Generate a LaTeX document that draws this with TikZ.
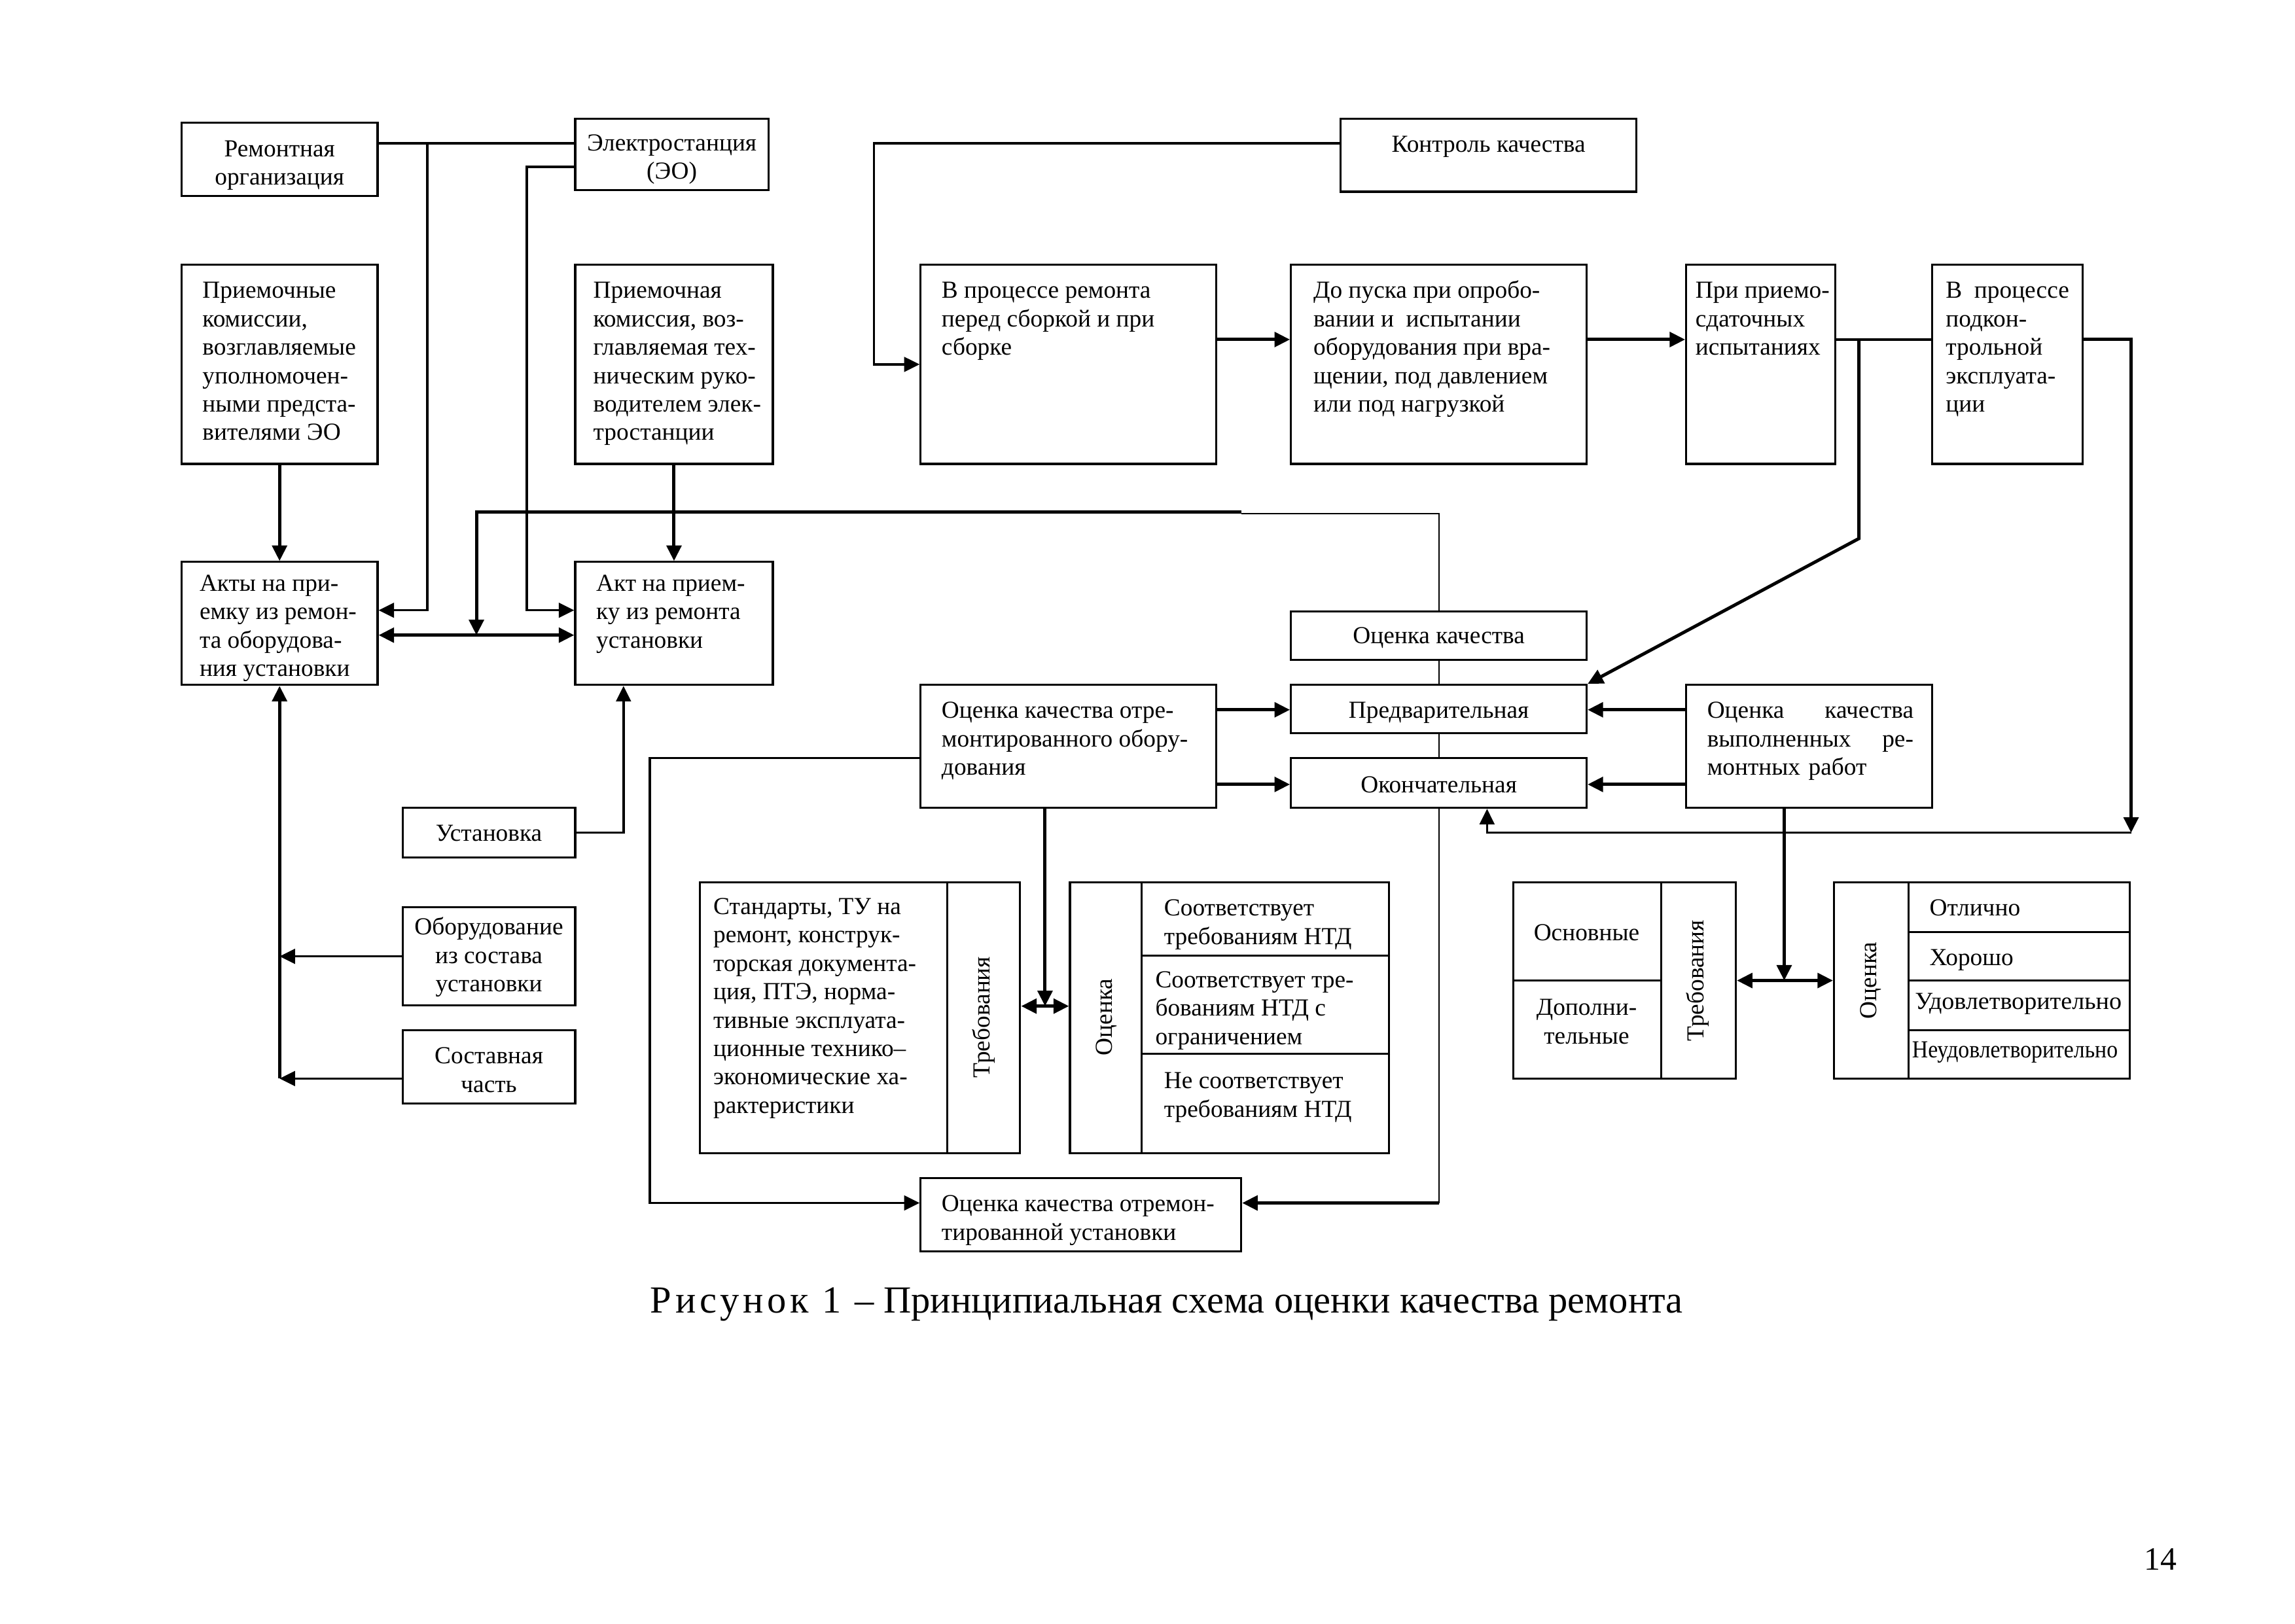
\documentclass[tikz,border=0pt]{standalone}
\usepackage{fontspec}
\setmainfont{Liberation Serif}
\usetikzlibrary{arrows.meta,fit,calc}
\newcommand\bfont{\fontsize{9}{10.45}\selectfont}
\newcommand\fl{\rule{0pt}{7pt}}
\newcommand\mkbox[5]{\node[box, fit={(#2,#3)(#4,#5)}] (#1) {};}
\newcommand\txtl[4]{\node[txt] (#1) at (#2,{#3-7.5}) {\fl#4};}
\newcommand\txtc[4]{\node[ctxt] (#1) at (#2,{#3-7.5}) {\fl#4};}
\newcommand\txtr[4]{\node[rtxt] (#1) at (#2,#3) {#4};}
\begin{document}
\begin{tikzpicture}[x=0.18941mm, y=-0.18941mm,
 box/.style={draw, line width=0.75pt, inner sep=0pt},
 bl/.style={line width=0.75pt},
 txt/.style={anchor=north west, inner sep=0pt, align=left, font=\bfont},
 ctxt/.style={anchor=north, inner sep=0pt, align=center, font=\bfont},
 rtxt/.style={rotate=90, inner sep=0pt, font=\bfont},
 ln/.style={line width=0.85pt},
 thk/.style={line width=1.2pt},
 spn/.style={line width=0.5pt},
 >={Triangle[length=2mm,width=1.9mm]},
]
\useasboundingbox (0,0) rectangle (1568,1109.3);

% ---------- boxes
\mkbox{remorg}{124}{84}{258}{134}
\mkbox{elst}{393}{81}{525}{130}
\mkbox{prk1}{124}{181}{258}{317}
\mkbox{prk2}{393}{181}{528}{317}
\mkbox{akty}{124}{384}{258}{468}
\mkbox{akt}{393}{384}{528}{468}
\mkbox{ustan}{275}{552}{393}{586}
\mkbox{oborud}{275}{620}{393}{687}
\mkbox{sost}{275}{704}{393}{754}
\mkbox{kontrol}{916}{81}{1118}{131}
\mkbox{proc1}{629}{181}{831}{317}
\mkbox{dopusk}{882}{181}{1084}{317}
\mkbox{priemo}{1152}{181}{1254}{317}
\mkbox{podkon}{1320}{181}{1423}{317}
\mkbox{okach}{882}{418}{1084}{451}
\mkbox{pred}{882}{468}{1084}{501}
\mkbox{okon}{882}{518}{1084}{552}
\mkbox{oremob}{629}{468}{831}{552}
\mkbox{ovyp}{1152}{468}{1320}{552}
\mkbox{std}{478}{603}{697}{788}
\mkbox{ocen1}{731}{603}{949}{788}
\mkbox{oust}{629}{805}{848}{855}
\mkbox{treb2}{1034}{603}{1186}{737}
\mkbox{ocen2}{1253}{603}{1455}{737}

% ---------- dividers
\draw[bl] (std.north -| 647,0) -- (std.south -| 647,0);
\draw[bl] (ocen1.north -| 780,0) -- (ocen1.south -| 780,0);
\draw[bl] (ocen1.east |- 0,653) -- (780,653);
\draw[bl] (ocen1.east |- 0,720) -- (780,720);
\draw[bl] (treb2.north -| 1135,0) -- (treb2.south -| 1135,0);
\draw[bl] (treb2.west |- 0,670) -- (1135,670);
\draw[bl] (ocen2.north -| 1304,0) -- (ocen2.south -| 1304,0);
\draw[bl] (ocen2.east |- 0,637) -- (1304,637);
\draw[bl] (ocen2.east |- 0,670) -- (1304,670);
\draw[bl] (ocen2.east |- 0,704) -- (1304,704);

% ---------- texts
\txtc{tremorg}{191}{101}{Ремонтная\\организация}
\txtc{telst}{459}{97}{Электростанция\\(ЭО)}
\txtl{tprk1}{138}{198}{Приемочные\\комиссии,\\возглавляемые\\уполномочен-\\ными предста-\\вителями ЭО}
\txtl{tprk2}{405}{198}{Приемочная\\комиссия, воз-\\главляемая тех-\\ническим руко-\\водителем элек-\\тростанции}
\txtl{takty}{136}{398}{Акты на при-\\емку из ремон-\\та оборудова-\\ния установки}
\txtl{takt}{407}{398}{Акт на прием-\\ку из ремонта\\установки}
\txtc{tustan}{334}{569}{Установка}
\txtc{toborud}{334}{633}{Оборудование\\из состава\\установки}
\txtc{tsost}{334}{721}{Составная\\часть}
\txtc{tkontrol}{1017}{98}{Контроль качества}
\txtl{tproc1}{643}{198}{В процессе ремонта\\перед сборкой и при\\сборке}
\txtl{tdopusk}{897}{198}{До пуска при опробо-\\вании и\ \ испытании\\оборудования при вра-\\щении, под давлением\\или под нагрузкой}
\txtl{tpriemo}{1158}{198}{При приемо-\\сдаточных\\испытаниях}
\txtl{tpodkon}{1329}{198}{В\ \ процессе\\подкон-\\трольной\\эксплуата-\\ции}
\txtc{tokach}{983}{434}{Оценка качества}
\txtc{tpred}{983}{485}{Предварительная}
\txtc{tokon}{983}{536}{Окончательная}
\txtl{toremob}{643}{485}{Оценка качества отре-\\монтированного обору-\\дования}
\node[txt, text width=26.7mm] (tovyp) at (1166,{485-7.5}) {\fl Оценка\hspace{\fill}качества\\выполненных\hspace{\fill}ре-\\монтных работ};
\txtl{tstd}{487}{619}{Стандарты, ТУ на\\ремонт, конструк-\\торская документа-\\ция, ПТЭ, норма-\\тивные эксплуата-\\ционные технико–\\экономические ха-\\рактеристики}
\txtr{ttreb1}{672}{695}{Требования}
\txtr{tocen1}{756}{695}{Оценка}
\txtl{tsoot1}{795}{620}{Соответствует\\требованиям НТД}
\txtl{tsoot2}{789}{669}{Соответствует тре-\\бованиям НТД с\\ограничением}
\txtl{tsoot3}{795}{738}{Не соответствует\\требованиям НТД}
\txtl{toust}{643}{822}{Оценка качества отремон-\\тированной установки}
\txtc{tosn}{1084}{637}{Основные}
\txtc{tdop}{1084}{688}{Дополни-\\тельные}
\txtr{ttreb2}{1160}{670}{Требования}
\txtr{tocen2}{1278}{670}{Оценка}
\txtl{totl}{1318}{620}{Отлично}
\txtl{thor}{1318}{654}{Хорошо}
\txtl{tudov}{1308}{684}{\scalebox{1.02}[1]{Удовлетворительно}}
\txtl{tneud}{1306}{717}{\scalebox{0.905}[1]{Неудовлетворительно}}

\node[anchor=base west, inner sep=0pt, font=\fontsize{14.1}{16}\selectfont] (cap) at (444,897)
  {{\addfontfeatures{LetterSpace=10}Рисунок 1 –} Принципиальная схема оценки качества ремонта};
\node[anchor=base, inner sep=0pt, font=\fontsize{12}{14}\selectfont] (pnum) at (1476,1073) {14};

% ---------- connectors
\coordinate (j1) at (292,98);
\coordinate (j2) at (360,114);
\draw[ln] (remorg.east |- 0,98) -- (elst.west |- 0,98);
\draw[ln,->] (j1) |- (akty.east |- 0,417);
\draw[ln,->] (elst.west |- 0,114) -- (j2) |- (akt.west |- 0,417);
\draw[thk,->] (prk1.south) -- (akty.north);
\draw[thk,->] (prk2.south) -- (akt.north);
\draw[thk,<->] (akty.east |- 0,434) -- (akt.west |- 0,434);
\coordinate (m1) at (325.5,434);
\draw[spn] (okach.north) -- (983,351) -- (848,351);
\draw[thk,->] (848,350) -- (325.5,350) -- (m1);

\draw[ln,->] (ustan.east) -| (akt.south -| 426,0);
\coordinate (lv) at (191,737);
\draw[ln,->] (oborud.west) -- (oborud.west -| lv);
\draw[ln,->] (sost.west |- lv) -- (lv);
\draw[thk,->] (lv) -- (akty.south);

\draw[ln,->] (kontrol.west |- 0,98) -| (597,249) -- (proc1.west |- 0,249);
\draw[thk,->] (proc1.east |- 0,232) -- (dopusk.west |- 0,232);
\draw[thk,->] (dopusk.east |- 0,232) -- (priemo.west |- 0,232);
\draw[ln] (priemo.east |- 0,232) -- (podkon.west |- 0,232);
\coordinate (j3) at (1270,232);
\draw[thk,->] (j3) -- (1270,368) -- (pred.north east);
\coordinate (j4) at (1456,569);
\draw[thk,->] (podkon.east |- 0,232) -| (j4);
\draw[ln,->] (j4) -| (okon.south -| 1016,0);

\draw[thk,->] (oremob.east |- 0,485) -- (pred.west |- 0,485);
\draw[thk,->] (oremob.east |- 0,536) -- (okon.west |- 0,536);
\draw[thk,->] (ovyp.west |- 0,485) -- (pred.east |- 0,485);
\draw[thk,->] (ovyp.west |- 0,536) -- (okon.east |- 0,536);
\draw[spn] (okach.south) -- (pred.north);
\draw[spn] (pred.south) -- (okon.north);
\coordinate (j5) at (983,822);
\draw[spn] (okon.south) -- (j5);
\draw[thk,->] (j5) -- (oust.east |- j5);
\draw[ln,->] (oremob.west |- 0,518) -| (444,822) -- (oust.west |- 0,822);

\coordinate (m2) at (714,687.5);
\draw[thk,->] (oremob.south -| m2) -- (m2);
\draw[thk,<->] (std.east |- m2) -- (ocen1.west |- m2);
\coordinate (m3) at (1219,670);
\draw[thk,->] (ovyp.south -| m3) -- (m3);
\draw[thk,<->] (treb2.east |- m3) -- (ocen2.west |- m3);
\end{tikzpicture}
\end{document}
